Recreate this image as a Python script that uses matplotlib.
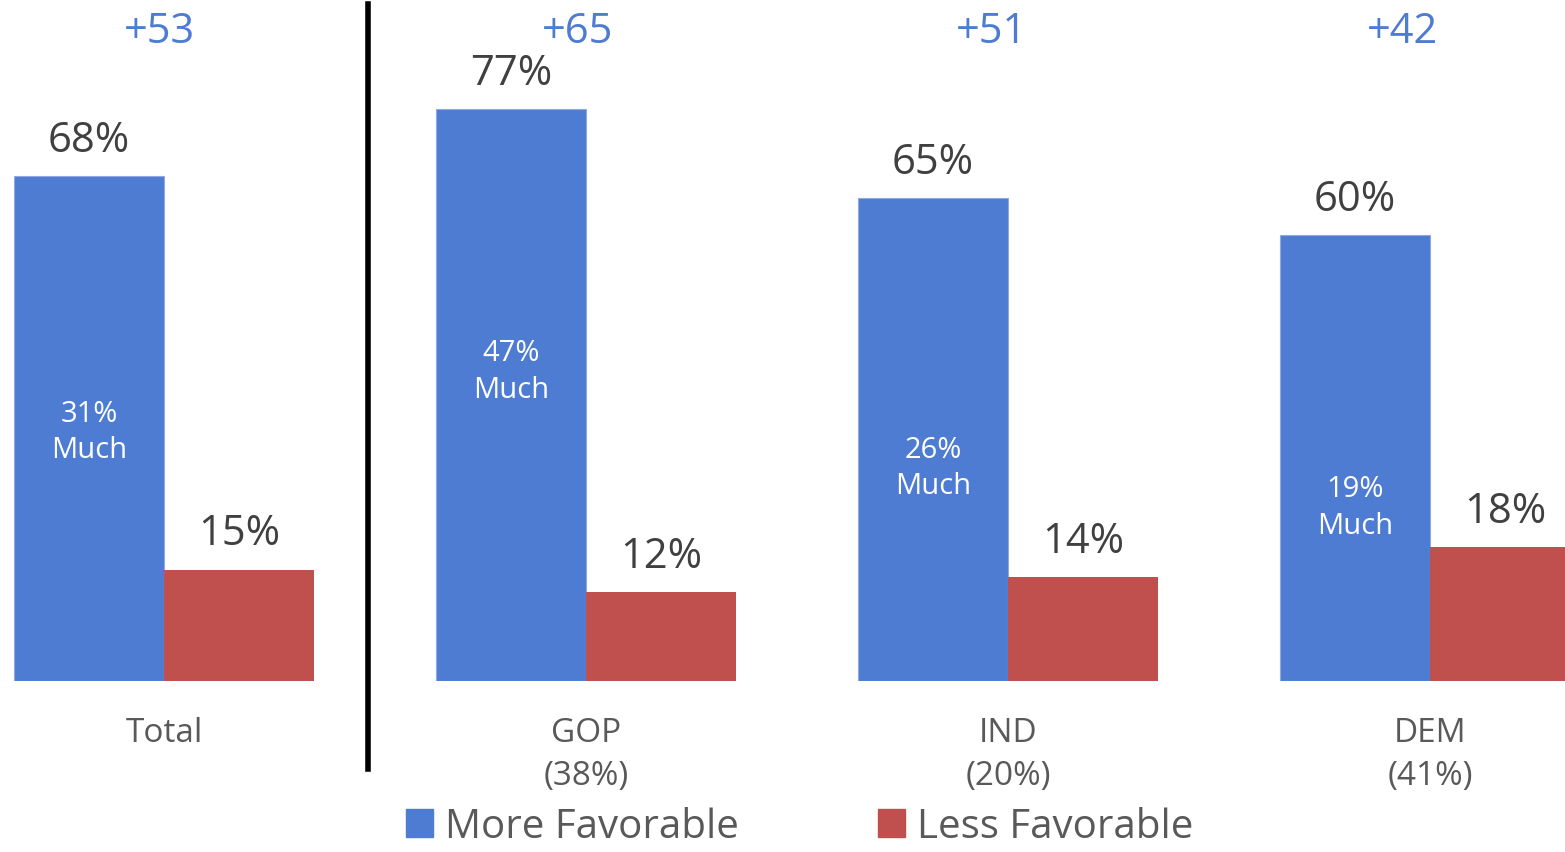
"""Favorability by party — grouped bar chart."""

import matplotlib.pyplot as plt
from matplotlib.lines import Line2D
from matplotlib.patches import Patch
import numpy as np

plt.rcParams["font.family"] = ["Open Sans", "DejaVu Sans"]

# データ
groups = ["Total", "GOP\n(38%)", "IND\n(20%)", "DEM\n(41%)"]
more_favorable = [68, 77, 65, 60]
less_favorable = [15, 12, 14, 18]
much_favorable = [31, 47, 26, 19]
spreads = ["+53", "+65", "+51", "+42"]

BLUE = "#4E7CD2"
RED = "#C0504D"
DARK = "#404040"
GREY = "#595959"

# レイアウト調整用
inner_label_y = [33.6, 41.7, 28.7, 23.4]
spread_dx = [-0.01, -0.02, -0.04, -0.065]

fig = plt.figure(figsize=(15.65, 8.53), dpi=100)
ax = fig.add_axes([0, (853 - 682) / 853, 1, 682 / 853])

x = np.arange(len(groups))
w = 150 / 422

ax.bar(x - w / 2, more_favorable, w, color=BLUE, edgecolor="#8FAADC",
       linewidth=0.8, label="More Favorable")
ax.bar(x + w / 2, less_favorable, w, color=RED, linewidth=0,
       label="Less Favorable")

ax.set_xlim(-164 / 422, (1565 - 164) / 422)
ax.set_ylim(0, 682 / 7.43)
ax.axis("off")

# 値ラベル
for i in range(len(groups)):
    ax.annotate(f"{more_favorable[i]}%", xy=(x[i] - w / 2, more_favorable[i]),
                xytext=(0, 26), textcoords="offset points",
                ha="center", va="center", fontsize=30, color=DARK)
    ax.annotate(f"{less_favorable[i]}%", xy=(x[i] + w / 2, less_favorable[i]),
                xytext=(0, 26), textcoords="offset points",
                ha="center", va="center", fontsize=30, color=DARK)
    ax.text(x[i] - w / 2, inner_label_y[i], f"{much_favorable[i]}%\nMuch",
            ha="center", va="center", fontsize=21, color="white",
            linespacing=1.34)
    ax.text(x[i] + spread_dx[i], 1 - 32 / 682, spreads[i],
            transform=ax.get_xaxis_transform(),
            ha="center", va="center", fontsize=30, color=BLUE)
    ax.text(x[i], -0.051, groups[i], transform=ax.get_xaxis_transform(),
            ha="center", va="top", fontsize=24, color=GREY, linespacing=1.42)

# 区切り線
fig.add_artist(Line2D([368 / 1565, 368 / 1565], [1 - 770 / 853, 1 - 5 / 853],
                      color="black", linewidth=4, transform=fig.transFigure))

# 凡例
handles = [Patch(color=BLUE, label="More Favorable"),
           Patch(color=RED, label="Less Favorable")]
fig.legend(handles=handles, loc="center", bbox_to_anchor=(800 / 1565, 1 - 828 / 853),
           ncol=2, frameon=False, fontsize=29, labelcolor=GREY,
           handlelength=0.67, handleheight=0.67, handletextpad=0.3,
           columnspacing=3.45, borderpad=0)

fig.savefig("out.png", dpi=100)
